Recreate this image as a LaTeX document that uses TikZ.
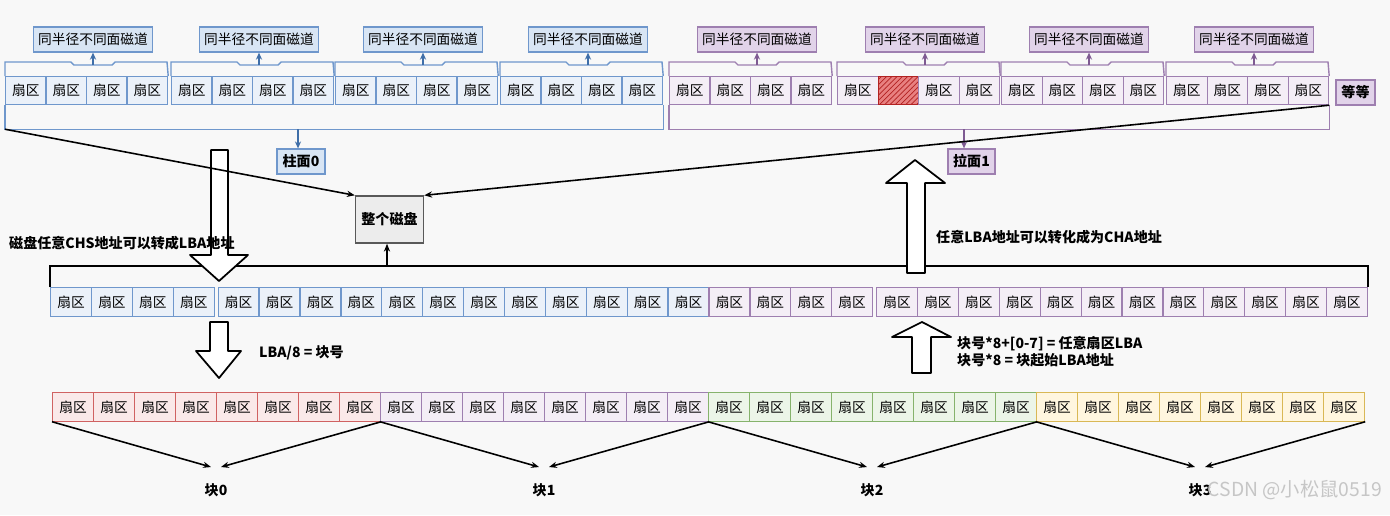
\documentclass[tikz,border=0pt]{standalone}
\usepackage{fontspec}
\setmainfont{Noto Sans CJK SC}
\usetikzlibrary{arrows.meta,patterns}

\definecolor{bgc}{HTML}{F8F8F8}
\definecolor{bluln}{HTML}{6F97CC}
\definecolor{blufl}{HTML}{EBF1F9}
\definecolor{blulb}{HTML}{D8E5F4}
\definecolor{bludk}{HTML}{3F6EA8}
\definecolor{purln}{HTML}{9E7FB0}
\definecolor{purfl}{HTML}{F4EEF6}
\definecolor{purlb}{HTML}{E1D3E9}
\definecolor{purdk}{HTML}{7E5A92}
\definecolor{redln}{HTML}{D06262}
\definecolor{redfl}{HTML}{FAE9E9}
\definecolor{grnln}{HTML}{86B36C}
\definecolor{grnfl}{HTML}{ECF5E8}
\definecolor{yelln}{HTML}{D9B855}
\definecolor{yelfl}{HTML}{FFF6DF}
\definecolor{hotln}{HTML}{B22222}
\definecolor{hotfl}{HTML}{E88080}

\tikzset{
  sec/.style={draw, inner sep=0pt, anchor=north west, minimum height=0.56cm, line width=0.7pt},
  secblu/.style={sec, draw=bluln, fill=blufl},
  secpur/.style={sec, draw=purln, fill=purfl},
  secred/.style={sec, draw=redln, fill=redfl},
  secgrn/.style={sec, draw=grnln, fill=grnfl},
  secyel/.style={sec, draw=yelln, fill=yelfl},
  lab/.style={draw, inner sep=0pt, minimum height=0.5cm, line width=0.7pt},
  labblu/.style={lab, draw=bluln, fill=blulb},
  labpur/.style={lab, draw=purln, fill=purlb},
  lnblu/.style={draw=bluln, line width=0.8pt},
  lnpur/.style={draw=purln, line width=0.8pt},
  arblu/.style={-{Stealth[length=4pt,width=3.5pt]}, draw=bludk, line width=0.9pt},
  arpur/.style={-{Stealth[length=4pt,width=3.5pt]}, draw=purdk, line width=0.9pt},
  ar/.style={-{Stealth[length=4.5pt,width=3.5pt]}, line width=0.9pt},
  fat/.style={draw, fill=white, line width=1pt, line join=round},
  bold/.style={font=\fontsize{8}{9.6}\selectfont\bfseries},
}

\begin{document}
\begin{tikzpicture}[x=0.02cm, y=-0.02cm, font=\fontsize{7.8}{9}\selectfont]
\fill[bgc] (0,0) rectangle (1390,515);

\foreach \L/\tone [count=\g] in {5/blu,171/blu,335/blu,500/blu,669/pur,837/pur,1001/pur,1166/pur}{
  \foreach \k in {0,...,3}{
    \ifnum\g\k=61
      \node[sec, draw=hotln, preaction={fill=hotfl}, pattern=north east lines, pattern color=hotln, minimum width=0.81cm] (t\g-\k) at ({\L+\k*40.5},76) {};
    \else
      \node[sec\tone, minimum width=0.81cm] (t\g-\k) at ({\L+\k*40.5},76) {扇区};
    \fi
  }
  \draw[ln\tone] (t\g-0.north west) -- ({\L},62) -- ({\L+66},62) -- ({\L+69},65) -- ({\L+107},65) -- ({\L+110},62) -- ({\L+162},62) -- (t\g-3.north east);
  \coordinate (b\g) at ({\L+88},65);
  \node[lab\tone, minimum width=2.38cm] (l\g) at ({\L+88},39.5) {同半径不同面磁道};
  \draw[ar\tone] (b\g) -- (l\g);
}
\node[labpur, bold, minimum width=0.78cm] (etc) at (1355.5,92.5) {等等};

\draw[lnblu] (t1-0.south west) -- ++(0,24) coordinate (c0) -| (t4-3.south east);
\draw[lnpur] (t5-0.south west) -- ++(0,24) coordinate (c1) -| (t8-3.south east);
\node[labblu, bold, minimum width=0.96cm] (cyl0) at (301,161.5) {柱面0};
\node[labpur, bold, minimum width=0.94cm] (cyl1) at (971.5,161.5) {拉面1};
\draw[arblu] ([xshift=-0.06cm]cyl0.north |- c0) -- ([xshift=-0.06cm]cyl0.north);
\draw[arpur] ([xshift=-0.15cm]cyl1.north |- c1) -- ([xshift=-0.15cm]cyl1.north);

\node[draw=gray!70!black, fill=gray!15, bold, minimum width=1.34cm, minimum height=0.94cm, line width=0.8pt] (disk) at (389.5,219.5) {整个磁盘};

\foreach \k in {0,...,31}{
  \pgfmathsetmacro\x{50+\k*40.9+4*(\k>3)+4*(\k>19)}
  \ifnum\k<16 \def\tone{blu}\else\def\tone{pur}\fi
  \node[sec\tone, minimum width=0.818cm, minimum height=0.58cm] (m\k) at (\x,287) {扇区};
}
\draw[line width=0.9pt] (m0.north west) -- ++(0,-21) coordinate (top) -| (m31.north east);

\draw[fat] (211,150) -- (211,255) -- (190,255) -- (219,281) -- (248,255) -- (228,255) -- (228,150) -- cycle;
\draw[fat] (907,273) -- (907,183) -- (886,183) -- (915,160) -- (945,183) -- (925,183) -- (925,273) -- cycle;
\draw[fat] (210,322) -- (210,351) -- (196,351) -- (219,378) -- (241,351) -- (228,351) -- (228,322) -- cycle;
\draw[fat] (912,373) -- (912,337) -- (892,337) -- (922,322) -- (951,337) -- (931,337) -- (931,373) -- cycle;

\draw[ar] ([xshift=-0.05cm]disk.south |- top) -- ([xshift=-0.05cm]disk.south);
\draw[ar] (c0) -- (disk.north west);
\draw[ar] (t8-3.south east) -- (disk.north east);

\node[bold, anchor=west] (chs) at (3,243) {磁盘任意CHS地址可以转成LBA地址};
\node[bold, anchor=west] (cha) at (930,237) {任意LBA地址可以转化成为CHA地址};
\node[bold, anchor=west] (div) at (253,353) {LBA/8 = 块号};
\node[bold, anchor=west, align=left] (mul) at (951,352) {块号*8+[0-7] = 任意扇区LBA\\块号*8 = 块起始LBA地址};

\foreach \tone [count=\b from 0] in {red,pur,grn,yel}{
  \foreach \k in {0,...,7}
    \node[sec\tone, minimum width=0.82cm, minimum height=0.57cm] (d\b-\k) at ({52+(8*\b+\k)*41},392) {扇区};
  \node[bold] (blk\b) at ({216+328*\b},490) {块\b};
  \coordinate (tl\b) at ({211+328*\b},467);
  \coordinate (tr\b) at ({221+328*\b},467);
  \draw[ar] (d\b-0.south west) -- (tl\b);
  \draw[ar] (d\b-7.south east) -- (tr\b);
}

\node[text=gray!45, font=\fontsize{11}{13}\selectfont, anchor=east] (mark) at (1388,490) {CSDN @小松鼠0519};
\end{tikzpicture}
\end{document}
